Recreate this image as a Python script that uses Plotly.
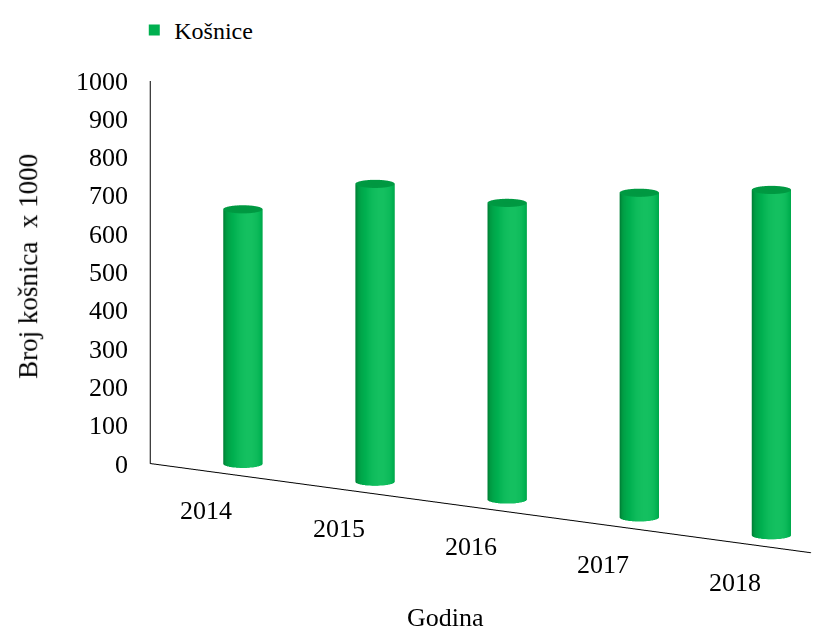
import numpy as np
import plotly.graph_objects as go

years = ["2014", "2015", "2016", "2017", "2018"]
hives = [665, 778, 775, 848, 902]   # Broj košnica x 1000
series_name = "Košnice"
z_ticks = [0, 100, 200, 300, 400, 500, 600, 700, 800, 900, 1000]

GREEN = "#00B050"
radius = 0.125
n_seg = 60

asp_x, asp_z = 2.95, 1.466
asp_y = 0.366
yr = asp_y * 5 / asp_x / 2
x_lo, x_hi = -0.5, 4.5
phi, theta, D = np.radians(33), np.radians(12), 2.0
ctr = dict(x=-0.207, y=-0.126, z=-0.154)
eye = dict(x=ctr["x"] + D * np.sin(phi) * np.cos(theta),
           y=ctr["y"] - D * np.cos(phi) * np.cos(theta),
           z=ctr["z"] + D * np.sin(theta))

# shading: light from roughly the viewer, slightly to the right
psi = phi + np.radians(18)
light_ang = np.arctan2(-np.cos(psi), np.sin(psi))

fig = go.Figure()
xs, ys, zs, inten, I, J, K = [], [], [], [], [], [], []
ang = np.linspace(0, 2 * np.pi, n_seg, endpoint=False)
for idx, v in enumerate(hives):
    base = len(xs)
    cx = idx
    for zlevel in (0, v):
        for a in ang:
            xs.append(cx + radius * np.cos(a)); ys.append(radius * np.sin(a)); zs.append(zlevel)
            d = max(np.cos(a - light_ang), 0.0)
            inten.append(0.22 + 0.78 * d ** 0.8)
    for a in ang:
        xs.append(cx + radius * np.cos(a)); ys.append(radius * np.sin(a)); zs.append(v)
        inten.append(0.45)
    xs.append(cx); ys.append(0); zs.append(v); inten.append(0.42)
    ring_b, ring_t, ring_c, c_t = base, base + n_seg, base + 2 * n_seg, base + 3 * n_seg
    for k in range(n_seg):
        k1 = (k + 1) % n_seg
        I += [ring_b + k, ring_b + k1]; J += [ring_b + k1, ring_t + k1]; K += [ring_t + k, ring_t + k]
        I.append(c_t); J.append(ring_c + k); K.append(ring_c + k1)

fig.add_trace(go.Mesh3d(
    x=xs, y=ys, z=zs, i=I, j=J, k=K,
    intensity=inten, intensitymode="vertex", cmin=0, cmax=1, showscale=False,
    colorscale=[[0, "#006B2C"], [0.45, "#009A42"], [0.8, "#00B050"], [1, "#14C060"]],
    flatshading=False, showlegend=False, name=series_name,
    lighting=dict(ambient=1.0, diffuse=0.0, specular=0.0, roughness=1.0, fresnel=0.0),
    hoverinfo="skip",
))
fig.add_trace(go.Scatter3d(x=[None], y=[None], z=[None], mode="markers", name=series_name,
                           marker=dict(symbol="square", size=11, color=GREEN), showlegend=True))

lab_font = dict(family="Liberation Serif", size=26, color="black")
scene_ann = []
for i, yl in enumerate(years):
    scene_ann.append(dict(x=i, y=-yr, z=0, text=yl, showarrow=False, font=lab_font,
                          xanchor="center", yanchor="middle", xshift=-10, yshift=-38))
for t in z_ticks:
    scene_ann.append(dict(x=x_lo, y=-yr, z=t, text=str(t), showarrow=False, font=lab_font,
                          xanchor="right", yanchor="middle", xshift=-20))

axis_common = dict(showbackground=False, showgrid=False, zeroline=False,
                   showspikes=False, linecolor="black", linewidth=2,
                   showticklabels=False, ticks="")

fig.update_layout(
    width=820, height=626,
    paper_bgcolor="white",
    margin=dict(l=0, r=0, t=0, b=0),
    font=dict(family="Liberation Serif", color="black"),
    showlegend=True,
    legend=dict(x=0.154, y=1.02, xanchor="left", yanchor="top",
                font=dict(family="Liberation Serif", size=24, color="black"),
                orientation="h", itemwidth=30),
    annotations=[
        dict(text="Broj košnica  x 1000", x=0.0244, y=0.598, xref="paper", yref="paper",
             xanchor="center", yanchor="middle",
             textangle=-90, showarrow=False, font=dict(family="Liberation Serif", size=27)),
        dict(text="Godina", x=0.533, y=0.0, xref="paper", yref="paper", yanchor="bottom",
             showarrow=False, font=dict(family="Liberation Serif", size=26)),
    ],
    scene=dict(
        domain=dict(x=[0.06, 1], y=[0.03, 0.9]),
        xaxis=dict(axis_common, range=[x_lo, x_hi], tickvals=list(range(len(years))),
                   showline=True, title=dict(text="")),
        yaxis=dict(axis_common, range=[-yr, yr], visible=False),
        zaxis=dict(axis_common, range=[0, 1000], tickvals=z_ticks, showline=True,
                   title=dict(text="")),
        aspectmode="manual",
        aspectratio=dict(x=asp_x, y=asp_y, z=asp_z),
        camera=dict(eye=eye, center=ctr, projection=dict(type="orthographic")),
        annotations=scene_ann,
    ),
)

fig.write_html("out.html")
